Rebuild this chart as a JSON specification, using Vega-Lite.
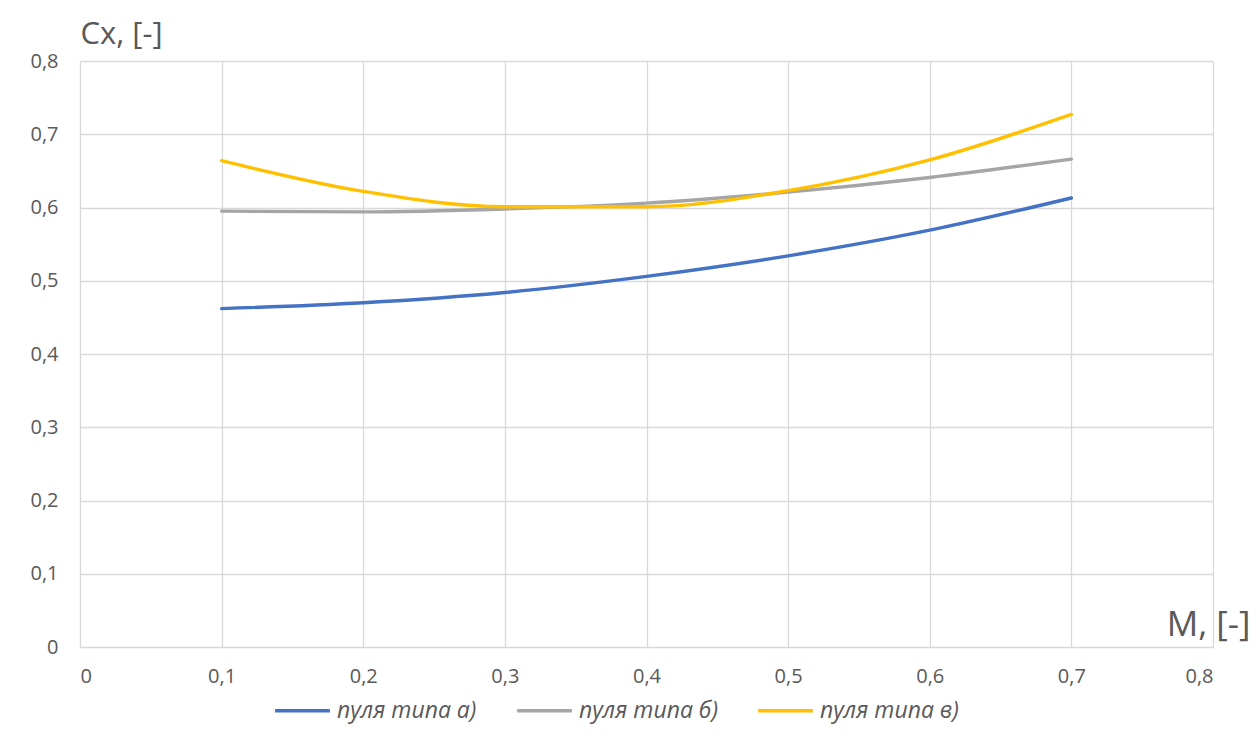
{
  "$schema": "https://vega.github.io/schema/vega-lite/v6.json",
  "autosize": {"type": "none"},
  "width": 1133,
  "height": 586,
  "padding": {"left": 80, "top": 61, "right": 45, "bottom": 99},
  "background": "white",
  "view": {"stroke": null},
  "config": {
    "font": "Open Sans",
    "axis": {
      "labelFont": "Open Sans",
      "labelFontSize": 20,
      "labelColor": "#595959",
      "titleFont": "Open Sans",
      "titleColor": "#595959",
      "titleFontWeight": "normal",
      "gridColor": "#D9D9D9",
      "gridWidth": 1.3,
      "domain": false,
      "ticks": false
    }
  },
  "data": {
    "values": [
      {"M": 0.1, "Cx": 0.462, "series": "пуля типа а)"},
      {"M": 0.2, "Cx": 0.470, "series": "пуля типа а)"},
      {"M": 0.3, "Cx": 0.484, "series": "пуля типа а)"},
      {"M": 0.4, "Cx": 0.506, "series": "пуля типа а)"},
      {"M": 0.5, "Cx": 0.534, "series": "пуля типа а)"},
      {"M": 0.6, "Cx": 0.569, "series": "пуля типа а)"},
      {"M": 0.7, "Cx": 0.613, "series": "пуля типа а)"},
      {"M": 0.1, "Cx": 0.595, "series": "пуля типа б)"},
      {"M": 0.2, "Cx": 0.594, "series": "пуля типа б)"},
      {"M": 0.3, "Cx": 0.598, "series": "пуля типа б)"},
      {"M": 0.4, "Cx": 0.606, "series": "пуля типа б)"},
      {"M": 0.5, "Cx": 0.621, "series": "пуля типа б)"},
      {"M": 0.6, "Cx": 0.641, "series": "пуля типа б)"},
      {"M": 0.7, "Cx": 0.666, "series": "пуля типа б)"},
      {"M": 0.1, "Cx": 0.664, "series": "пуля типа в)"},
      {"M": 0.2, "Cx": 0.622, "series": "пуля типа в)"},
      {"M": 0.3, "Cx": 0.601, "series": "пуля типа в)"},
      {"M": 0.4, "Cx": 0.601, "series": "пуля типа в)"},
      {"M": 0.5, "Cx": 0.623, "series": "пуля типа в)"},
      {"M": 0.6, "Cx": 0.665, "series": "пуля типа в)"},
      {"M": 0.7, "Cx": 0.727, "series": "пуля типа в)"}
    ]
  },
  "mark": {"type": "line", "interpolate": "monotone", "strokeWidth": 3.4, "strokeCap": "round"},
  "encoding": {
    "x": {
      "field": "M",
      "type": "quantitative",
      "scale": {"domain": [0, 0.8], "nice": false, "zero": true},
      "axis": {
        "values": [0, 0.1, 0.2, 0.3, 0.4, 0.5, 0.6, 0.7, 0.8],
        "labelExpr": "datum.value == 0 ? '0' : replace(format(datum.value, '.1f'), '.', ',')",
        "labelPadding": 19,
        "title": "M, [-]",
        "titleFontSize": 35,
        "titleAnchor": null,
        "titleAlign": "right",
        "titleBaseline": "alphabetic",
        "titleX": 1170,
        "titleY": -12
      }
    },
    "y": {
      "field": "Cx",
      "type": "quantitative",
      "scale": {"domain": [0, 0.8], "nice": false},
      "axis": {
        "values": [0, 0.1, 0.2, 0.3, 0.4, 0.5, 0.6, 0.7, 0.8],
        "labelExpr": "datum.value == 0 ? '0' : replace(format(datum.value, '.1f'), '.', ',')",
        "labelPadding": 22,
        "title": "Cx, [-]",
        "titleFontSize": 31,
        "titleAngle": 0,
        "titleAnchor": null,
        "titleAlign": "left",
        "titleBaseline": "alphabetic",
        "titleX": 0,
        "titleY": -18
      }
    },
    "color": {
      "field": "series",
      "type": "nominal",
      "scale": {
        "domain": ["пуля типа а)", "пуля типа б)", "пуля типа в)"],
        "range": ["#4472C4", "#A5A5A5", "#FFC000"]
      },
      "legend": {
        "title": null,
        "orient": "none",
        "direction": "horizontal",
        "legendX": 193,
        "legendY": 620,
        "symbolType": "stroke",
        "symbolSize": 3000,
        "symbolStrokeWidth": 3.4,
        "labelFont": "Open Sans",
        "labelFontSize": 23,
        "labelFontStyle": "italic",
        "labelColor": "#595959",
        "labelOffset": 5,
        "labelLimit": 300,
        "columnPadding": 33
      }
    }
  }
}
